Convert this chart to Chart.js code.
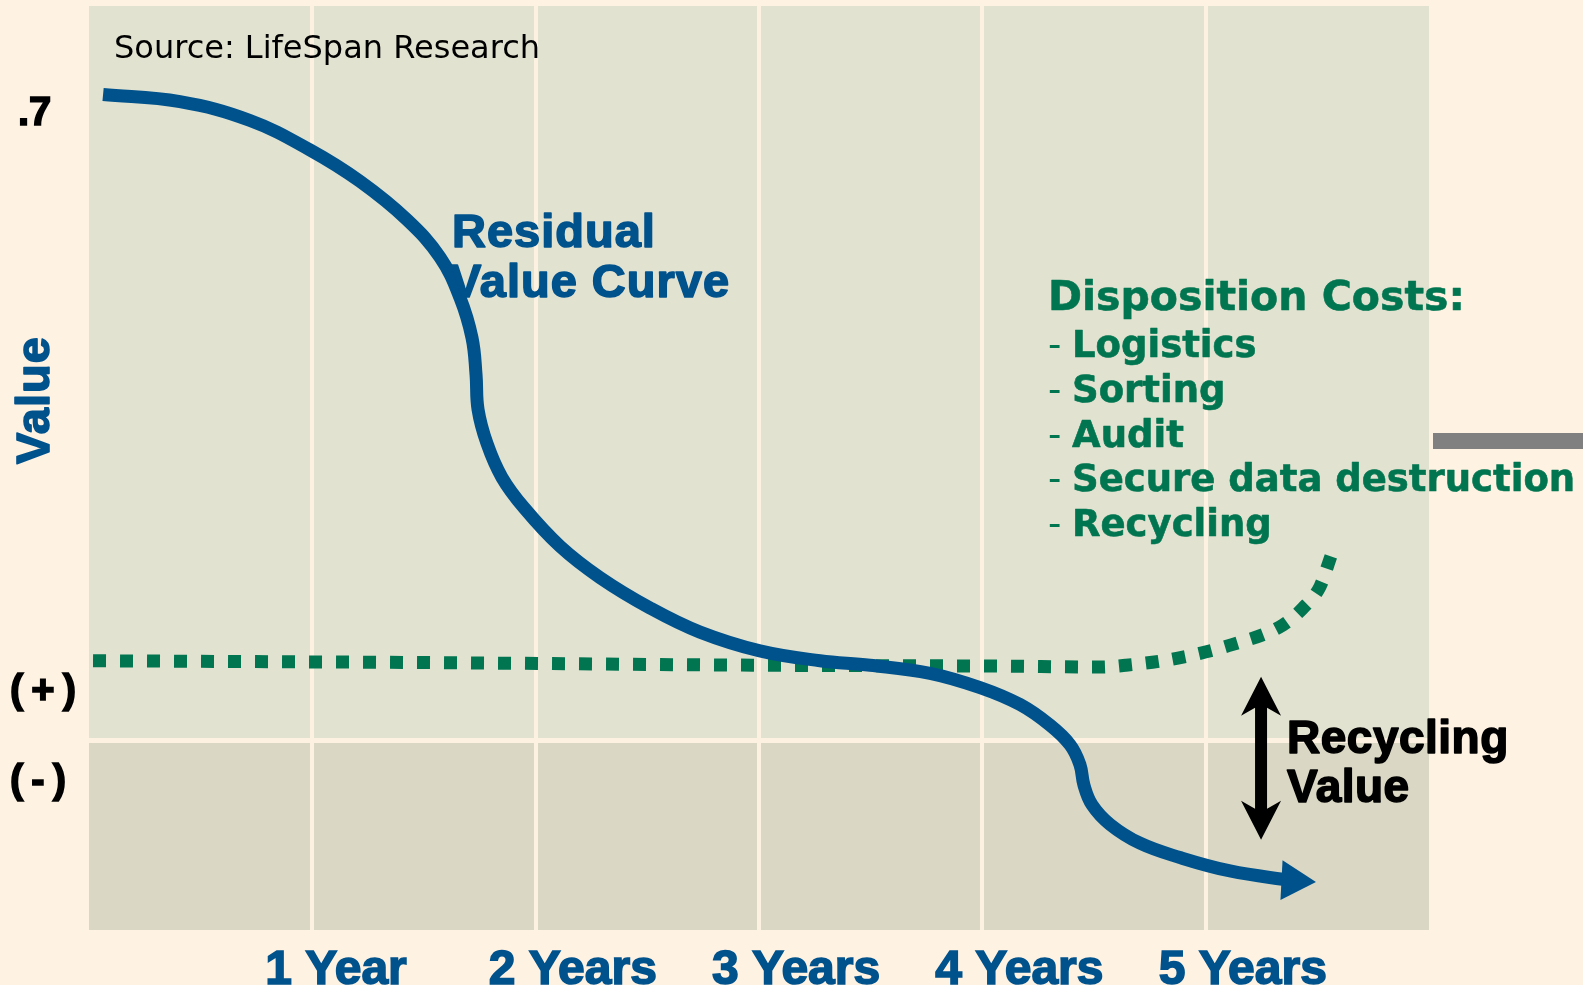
<!DOCTYPE html>
<html>
<head>
<meta charset="utf-8">
<script src="https://cdn.jsdelivr.net/npm/chart.js@4.4.1/dist/chart.umd.min.js"></script>
<style>
html, body { margin: 0; padding: 0; background: #fef2e3; }
#wrap { width: 1583px; height: 985px; position: relative; }
</style>
</head>
<body>
<div id="wrap"><canvas id="mycanvas"></canvas></div>
<script>
// axis labels
var xLabels = ['1 Year', '2 Years', '3 Years', '4 Years', '5 Years'];
var yTickValues = [-0.046, 0, 0.054, 0.7];
var yTickLabels = ['(\u2009-\u2009)', '', '(\u2009+\u2009)', '\u2009.7'];

// residual value curve (years, value)
var residualX = [0.063, 0.407, 0.721, 0.990, 1.213, 1.424, 1.572, 1.661, 1.715, 1.733, 1.742, 1.782, 1.849, 1.948, 2.109, 2.288, 2.512, 2.736, 3.004, 3.273, 3.497, 3.766, 3.990, 4.169, 4.303, 4.393, 4.437, 4.455, 4.491, 4.572, 4.706, 4.885, 5.109, 5.391];
var residualY = [0.722, 0.714, 0.693, 0.660, 0.625, 0.582, 0.540, 0.495, 0.450, 0.409, 0.370, 0.332, 0.294, 0.260, 0.217, 0.182, 0.148, 0.121, 0.100, 0.089, 0.084, 0.075, 0.059, 0.040, 0.017, -0.005, -0.027, -0.050, -0.072, -0.094, -0.115, -0.131, -0.146, -0.157];

// disposition cost curve
var costX = [0.018, 1.482, 3.000, 4.079, 4.527, 4.643, 4.876, 5.118, 5.346, 5.436, 5.512, 5.561];
var costY = [0.089, 0.087, 0.084, 0.083, 0.082, 0.084, 0.092, 0.107, 0.129, 0.148, 0.172, 0.206];

var blue = '#00528c';
var green = '#007550';

function pts(xs, ys) {
  var out = [];
  for (var i in xs) {
    out.push({x: xs[i], y: ys[i]});
  }
  return out;
}

// filled + stroked text, to get a heavier face
function heavy(ctx, s, x, y, w) {
  ctx.lineWidth = w;
  ctx.lineJoin = 'round';
  ctx.strokeStyle = ctx.fillStyle;
  ctx.strokeText(s, x, y);
  ctx.fillText(s, x, y);
}

var decor = {
  id: 'decor',
  beforeDraw: function(chart) {
    var ctx = chart.ctx, a = chart.chartArea;
    var y0 = chart.scales.y.getPixelForValue(0);
    ctx.save();
    ctx.fillStyle = '#e2e2d1';
    ctx.fillRect(a.left, a.top, a.right - a.left, y0 - a.top);
    ctx.fillStyle = '#dad8c4';
    ctx.fillRect(a.left, y0, a.right - a.left, a.bottom - y0);
    ctx.restore();
  },
  afterDraw: function(chart) {
    var ctx = chart.ctx;
    var sx = chart.scales.x, sy = chart.scales.y;
    ctx.save();
    ctx.textAlign = 'left';
    ctx.textBaseline = 'alphabetic';

    // source
    ctx.fillStyle = '#000';
    ctx.font = '32px "DejaVu Sans"';
    ctx.fillText('Source: LifeSpan Research', 114, 58);

    // curve label
    ctx.fillStyle = blue;
    ctx.font = 'bold 47px "Liberation Sans", Arial';
    ctx.letterSpacing = '1px';
    heavy(ctx, 'Residual', 452, 247, 1.6);
    heavy(ctx, 'Value Curve', 450, 297, 1.6);

    // y title
    ctx.save();
    ctx.translate(49, 400);
    ctx.rotate(-Math.PI / 2);
    ctx.textAlign = 'center';
    ctx.font = 'bold 47px "Liberation Sans", Arial';
    heavy(ctx, 'Value', 0, 0, 1.6);
    ctx.restore();
    ctx.letterSpacing = '0px';

    // disposition costs
    ctx.fillStyle = green;
    ctx.font = 'bold 41px "DejaVu Sans"';
    heavy(ctx, 'Disposition Costs:', 1048, 310, 0.6);
    var items = ['Logistics', 'Sorting', 'Audit', 'Secure data destruction', 'Recycling'];
    for (var i = 0; i < items.length; i++) {
      var by = 357 + i * 44.8;
      ctx.font = '37px "DejaVu Sans"';
      ctx.fillText('-', 1048, by);
      ctx.font = 'bold 37px "DejaVu Sans"';
      heavy(ctx, items[i], 1072, by, 0.6);
    }

    // recycling value double arrow
    var ax = sx.getPixelForValue(5.248);
    var at = sy.getPixelForValue(0.071);
    var ab = sy.getPixelForValue(-0.111);
    ctx.fillStyle = '#000';
    ctx.beginPath();
    ctx.moveTo(ax, at);
    ctx.lineTo(ax + 20, at + 39);
    ctx.lineTo(ax + 6, at + 31);
    ctx.lineTo(ax + 6, ab - 31);
    ctx.lineTo(ax + 20, ab - 39);
    ctx.lineTo(ax, ab);
    ctx.lineTo(ax - 20, ab - 39);
    ctx.lineTo(ax - 6, ab - 31);
    ctx.lineTo(ax - 6, at + 31);
    ctx.lineTo(ax - 20, at + 39);
    ctx.closePath();
    ctx.fill();

    ctx.font = 'bold 46px "Liberation Sans", Arial';
    ctx.letterSpacing = '0.5px';
    heavy(ctx, 'Recycling', 1287, 753, 1.6);
    heavy(ctx, 'Value', 1287, 802, 1.6);
    ctx.letterSpacing = '0px';

    // grey bar at right edge
    ctx.fillStyle = '#808080';
    ctx.fillRect(1433, 433, 150, 16);
    ctx.restore();
  }
};

var ctx = document.getElementById('mycanvas');

var chart = new Chart(ctx, {
  type: 'scatter',
  data: {
    datasets: [
      {
        label: 'Residual Value Curve',
        data: pts(residualX, residualY),
        showLine: true,
        borderColor: blue,
        borderWidth: 13,
        borderCapStyle: 'butt',
        borderJoinStyle: 'round',
        tension: 0.4,
        pointRadius: function(c) { return c.dataIndex === residualX.length - 1 ? 23 : 0; },
        pointStyle: 'triangle',
        rotation: 93,
        pointBackgroundColor: blue,
        pointBorderWidth: 0,
        pointHoverRadius: 0
      },
      {
        label: 'Disposition Costs',
        data: pts(costX, costY),
        showLine: true,
        borderColor: green,
        borderWidth: 13,
        borderDash: [13, 14],
        borderCapStyle: 'butt',
        cubicInterpolationMode: 'monotone',
        pointRadius: 0,
        pointHoverRadius: 0
      }
    ]
  },
  options: {
    responsive: true,
    maintainAspectRatio: false,
    animation: false,
    events: [],
    layout: { autoPadding: false, padding: { left: 10, top: 6, right: 154, bottom: 0 } },
    plugins: {
      legend: { display: false },
      tooltip: { enabled: false }
    },
    scales: {
      x: {
        type: 'linear',
        min: 0,
        max: 6,
        border: { display: false },
        grid: {
          drawTicks: false,
          lineWidth: 4,
          color: function(c) {
            var v = c.tick ? c.tick.value : 0;
            return (v > 0 && v < 6) ? '#fdf1e1' : 'rgba(0,0,0,0)';
          }
        },
        ticks: {
          stepSize: 1,
          autoSkip: false,
          maxRotation: 0,
          align: 'start',
          labelOffset: -47,
          padding: 12,
          color: blue,
          textStrokeColor: blue,
          textStrokeWidth: 1.6,
          font: { family: '"Liberation Sans", Arial', size: 48, weight: 'bold' },
          callback: function(v) { return xLabels[v - 1] || ''; }
        },
        afterFit: function(s) {
          s.height = 55;
          s.paddingLeft = 0;
          s.paddingRight = 0;
        }
      },
      y: {
        type: 'linear',
        min: -0.212,
        max: 0.821,
        border: { display: false },
        grid: {
          drawTicks: false,
          lineWidth: 5,
          color: function(c) {
            return (c.tick && c.tick.value === 0) ? '#fdf1e1' : 'rgba(0,0,0,0)';
          }
        },
        afterBuildTicks: function(s) {
          s.ticks = yTickValues.map(function(v) { return {value: v}; });
        },
        ticks: {
          crossAlign: 'far',
          color: '#000',
          textStrokeColor: '#000',
          textStrokeWidth: 1.6,
          font: { family: '"Liberation Sans", Arial', size: 40, weight: 'bold' },
          callback: function(v) {
            var i = yTickValues.indexOf(v);
            return i >= 0 ? yTickLabels[i] : '';
          }
        },
        afterFit: function(s) {
          s.width = 79;
          s.paddingTop = 0;
          s.paddingBottom = 0;
        }
      }
    }
  },
  plugins: [decor]
});
</script>
</body>
</html>
